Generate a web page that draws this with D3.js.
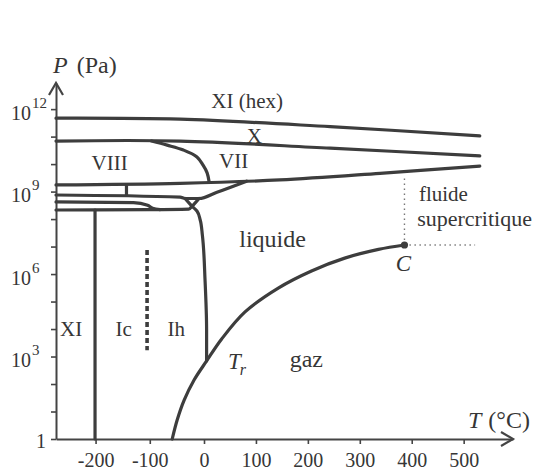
<!DOCTYPE html>
<html><head><meta charset="utf-8">
<script src="https://cdn.jsdelivr.net/npm/d3@7"></script>
<style>
html,body{margin:0;padding:0;background:#fff;}
svg{display:block;}
text{font-family:"Liberation Serif","Times New Roman",serif;fill:#363636;}
</style></head><body>
<svg id="chart" width="540" height="470"></svg>
<script>
// ---- data (T in °C, P in Pa) ----
const xTicks = [-200, -100, 0, 100, 200, 300, 400, 500];
const yLabelExps = [0, 3, 6, 9, 12];
const yTickExps = [0,1,2,3,4,5,6,7,8,9,10,11,12];

const lineTop      = [[-273,4.7e11],[-44,4.3e11],[243,2.3e11],[531,1.07e11]];   // XI(hex) / X
const lineX        = [[-273,6.9e10],[-44,6.9e10],[243,3.8e10],[531,2.0e10]];    // X / VII-VIII
const lineVIIVIII  = [[-97,6.9e10],[-68,4.9e10],[-38,3.25e10],[-13,1.82e10],[-2,9.3e9],[6,4.8e9],[10,2.2e9]];
const lineVII      = [[-273,1.74e9],[-44,2.0e9],[146,2.65e9],[339,4.6e9],[531,8.5e9]];
const lineXV       = [[-143,1.8e9],[-143,7.3e8]];
const lineVI       = [[-273,7.5e8],[-44,6.3e8],[-35,5.6e8],[-9,5.6e8],[25,9.5e8],[82,2.4e9]];
const triangleLegs = [[[-35,5.6e8],[-22,2.9e8]],[[-9,5.6e8],[-22,2.9e8]]];
const lineIII      = [[-273,4.2e8],[-130,4.0e8],[-104,3.2e8],[-95,2.5e8],[-81,2.2e8]];
const lineII       = [[-273,2.14e8],[-100,2.2e8],[-28,2.3e8],[-22,2.9e8]];
const lineMelt     = [[-22,2.9e8],[-13,1.96e8],[-7,9.3e7],[-3,2.6e7],[2,6e5],[5,9e3],[5,690]];
const lineVap      = [[-58.6,1],[-49.5,4.9],[-36.6,26],[-18.3,140],[5,690],[34,4.35e3],[79,4.2e4],[143,3.1e5],[207,1.3e6],[271,3.8e6],[336,7.9e6],[386,1.14e7]];
const lineXI       = [[-201,2.14e8],[-201,1]];
const lineIcIh     = [[-105,7.5e6],[-105,1.7e3]];
const criticalPoint = [386, 1.14e7];
const dottedV      = [[386,1.14e7],[386,3.1e9]];
const dottedH      = [[386,1.14e7],[522,1.14e7]];

const regionLabels = [
  {text:"XI (hex)", T:83,   P:1.1e12, size:21},
  {text:"X",        T:97,   P:5.9e10, size:21},
  {text:"VIII",     T:-174, P:6.1e9,  size:21},
  {text:"VII",      T:57,   P:7.2e9,  size:21},
  {text:"liquide",  T:132,  P:9.5e6,  size:24},
  {text:"fluide",   T:461,  P:4.55e8, size:21},
  {text:"supercritique", T:521, P:5.8e7, size:22},
  {text:"gaz",      T:197,  P:4.2e2,  size:24},
  {text:"XI",       T:-245, P:5.6e3,  size:21},
  {text:"Ic",       T:-148, P:5.6e3,  size:21},
  {text:"Ih",       T:-51,  P:5.6e3,  size:21}
];
const cLabel  = {text:"C", T:384, P:1.29e6};
const trLabel = {text:"T", sub:"r", T:46, P:352};

// ---- scales ----
const x = d3.scaleLinear().domain([-273, 0, 595]).range([56, 204, 513]);
const y = d3.scaleLog().domain([1, Math.pow(10, 12.95)]).range([439, 83]);

const svg = d3.select("#chart");
const ink = "#3d3d3d";

// axes
const xAxis = svg.append("g").attr("transform", `translate(0,${y(1)})`)
  .call(d3.axisBottom(x).tickValues(xTicks).tickSize(5).tickSizeOuter(0).tickPadding(9).tickFormat(d => String(d)));
const yAxis = svg.append("g").attr("transform", `translate(${x(-273)},0)`)
  .call(d3.axisLeft(y).tickValues(yTickExps.map(e => Math.pow(10, e))).tickSize(5).tickSizeOuter(0).tickFormat(""));
[xAxis, yAxis].forEach(a => {
  a.select(".domain").attr("stroke", "#444").attr("stroke-width", 2);
  a.selectAll(".tick line").attr("stroke", "#444").attr("stroke-width", 1.6);
  a.selectAll(".tick text").style("font-family", '"Liberation Serif",serif').style("font-size", "20px").attr("fill", "#363636");
});

// arrows
const xEnd = x.range()[2], yTop = y.range()[1];
svg.append("path").attr("d", `M${xEnd-12},${y(1)-7}L${xEnd},${y(1)}L${xEnd-12},${y(1)+7}`)
  .attr("fill", "none").attr("stroke", "#444").attr("stroke-width", 2.2);
svg.append("path").attr("d", `M${x(-273)-7},${yTop+12}L${x(-273)},${yTop}L${x(-273)+7},${yTop+12}`)
  .attr("fill", "none").attr("stroke", "#444").attr("stroke-width", 2.2);

// y tick labels
yLabelExps.forEach(e => {
  const ty = y(Math.pow(10, e));
  if (e === 0) {
    svg.append("text").attr("x", 46).attr("y", ty + 8.5).attr("text-anchor", "end")
      .style("font-size", "20px").text("1");
  } else {
    const t = svg.append("text").attr("x", 11).style("font-size", "20px");
    t.append("tspan").attr("y", ty + 10.5).text("10");
    t.append("tspan").attr("y", ty - 1.5).attr("dx", 1).style("font-size", "15px").text(String(e));
  }
});

// axis titles
const pt = svg.append("text").attr("x", 53).attr("y", 73).style("font-size", "24px");
pt.append("tspan").style("font-style", "italic").text("P");
pt.append("tspan").attr("dx", 9).text("(Pa)");
const tt = svg.append("text").attr("x", 468).attr("y", 428).style("font-size", "24px");
tt.append("tspan").style("font-style", "italic").text("T");
tt.append("tspan").attr("dx", 7).text("(°C)");

// boundaries
const gen = curve => d3.line().x(d => x(d[0])).y(d => y(d[1])).curve(curve);
const thick = (data, curve) => svg.append("path").attr("d", gen(curve)(data))
  .attr("fill", "none").attr("stroke", ink).attr("stroke-width", 3.2)
  .attr("stroke-linejoin", "round").attr("stroke-linecap", "round");
const smooth = d3.curveCatmullRom.alpha(0.5);

thick(lineTop, smooth);
thick(lineX, smooth);
thick(lineVIIVIII, smooth);
thick(lineVII, smooth);
thick(lineXV, d3.curveLinear);
thick(lineVI, d3.curveMonotoneX);
triangleLegs.forEach(l => thick(l, d3.curveLinear));
thick(lineIII, d3.curveMonotoneX);
thick(lineII, d3.curveMonotoneX);
thick(lineMelt, d3.curveMonotoneY);
thick(lineVap, smooth);
thick(lineXI, d3.curveLinear);

svg.append("path").attr("d", gen(d3.curveLinear)(lineIcIh))
  .attr("fill", "none").attr("stroke", ink).attr("stroke-width", 3.6).attr("stroke-dasharray", "5,3");

[dottedV, dottedH].forEach(l => svg.append("path").attr("d", gen(d3.curveLinear)(l))
  .attr("fill", "none").attr("stroke", "#777").attr("stroke-width", 1.4).attr("stroke-dasharray", "1.4,3.6"));

svg.append("circle").attr("cx", x(criticalPoint[0])).attr("cy", y(criticalPoint[1])).attr("r", 3.6).attr("fill", ink);

// labels
svg.selectAll("text.region").data(regionLabels).join("text").attr("class", "region")
  .attr("x", d => x(d.T)).attr("y", d => y(d.P)).attr("text-anchor", "middle")
  .style("font-size", d => d.size + "px")
  .text(d => d.text);

svg.append("text").attr("x", x(cLabel.T)).attr("y", y(cLabel.P)).attr("text-anchor", "middle")
  .style("font-size", "23px").style("font-style", "italic").text(cLabel.text);

const tr = svg.append("text").attr("x", x(trLabel.T)).attr("y", y(trLabel.P)).style("font-size", "23px").style("font-style", "italic");
tr.append("tspan").text(trLabel.text);
tr.append("tspan").attr("dy", 6).attr("dx", -1).style("font-size", "16px").text(trLabel.sub);
</script>
</body></html>
